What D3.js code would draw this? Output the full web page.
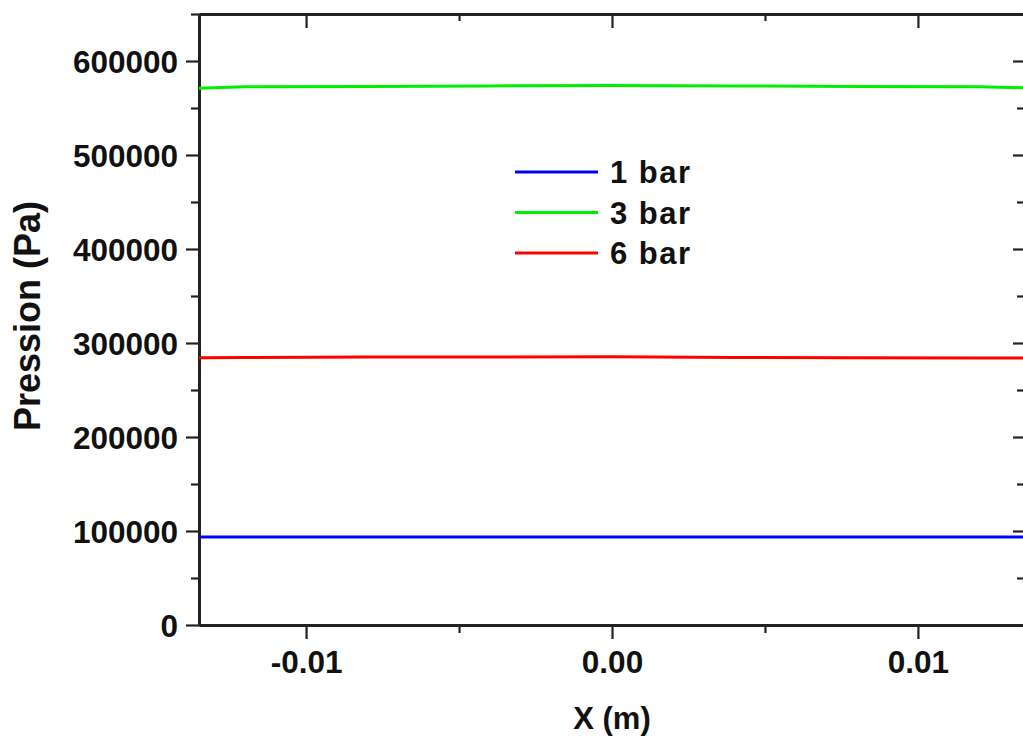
<!DOCTYPE html>
<html>
<head>
<meta charset="utf-8">
<script src="https://cdn.jsdelivr.net/npm/d3@7"></script>
<style>
  html, body { margin: 0; padding: 0; background: #fff; }
  svg { display: block; font-family: "Liberation Sans", Arial, sans-serif; font-weight: bold; }
</style>
</head>
<body>
<svg id="chart" width="1023" height="736"></svg>
<script>
// Position along the channel (m)
const xPositions = [-0.0135, -0.012, -0.008, -0.004, 0, 0.004, 0.008, 0.012, 0.0135];

// Pressure profiles (Pa) for each inlet setting
const seriesNames = ["1 bar", "3 bar", "6 bar"];
const pressure1bar = [93500, 93600, 93600, 93600, 93700, 93600, 93600, 93600, 93500];
const pressure3bar = [571000, 572500, 573000, 573500, 574000, 573500, 573000, 572500, 571500];
const pressure6bar = [284200, 284600, 285000, 285200, 285300, 284600, 284200, 284000, 284000];
const seriesColors = ["#0000ff", "#00ee00", "#ff0000"];

// Axis ticks
const xTickValues = [-0.01, 0, 0.01];
const xTickLabels = ["-0.01", "0.00", "0.01"];
const xMinorTicks = [-0.005, 0.005];
const yTickValues = [0, 100000, 200000, 300000, 400000, 500000, 600000];
const yTickLabels = ["0", "100000", "200000", "300000", "400000", "500000", "600000"];
const yMinorTicks = [50000, 150000, 250000, 350000, 450000, 550000, 650000];

const svg = d3.select("#chart");
const plotLeft = 199, plotRight = 1025, plotTop = 14, plotBottom = 625;

const x = d3.scaleLinear().domain([-0.0135, 0.0135]).range([plotLeft, plotRight]);
const y = d3.scaleLinear().domain([0, 650000]).range([plotBottom, plotTop]);

const axisColor = "#222";

function styleAxis(g) {
  g.selectAll("path, line").attr("stroke", axisColor);
  g.select("path.domain").attr("stroke-width", 3);
  g.selectAll(".tick line").attr("stroke-width", 2.2);
  g.selectAll("text").attr("fill", "#111").style("font-size", "31.5px").style("font-weight", "bold")
    .style("font-family", '"Liberation Sans", Arial, sans-serif');
}

// Minor ticks first so major axes draw over them
function minor(gen, vals, size) {
  return gen.tickValues(vals).tickSize(size).tickSizeOuter(0).tickFormat("");
}
svg.append("g").attr("transform", `translate(0,${plotBottom})`)
  .call(minor(d3.axisBottom(x), xMinorTicks, 8)).call(styleAxis);
svg.append("g").attr("transform", `translate(0,${plotTop})`)
  .call(minor(d3.axisBottom(x), xMinorTicks, 7)).call(styleAxis);
svg.append("g").attr("transform", `translate(${plotLeft},0)`)
  .call(minor(d3.axisLeft(y), yMinorTicks, 8)).call(styleAxis);
svg.append("g").attr("transform", `translate(${plotRight},0)`)
  .call(minor(d3.axisLeft(y), yMinorTicks, 8)).call(styleAxis);

// Major axes
svg.append("g").attr("transform", `translate(0,${plotBottom})`)
  .call(d3.axisBottom(x).tickValues(xTickValues).tickSize(14).tickPadding(12)
    .tickSizeOuter(0).tickFormat((d, i) => xTickLabels[i]))
  .call(styleAxis);
svg.append("g").attr("transform", `translate(0,${plotTop})`)
  .call(d3.axisBottom(x).tickValues(xTickValues).tickSize(14).tickSizeOuter(0).tickFormat(""))
  .call(styleAxis);
svg.append("g").attr("transform", `translate(${plotLeft},0)`)
  .call(d3.axisLeft(y).tickValues(yTickValues).tickSize(13).tickPadding(8)
    .tickSizeOuter(0).tickFormat((d, i) => yTickLabels[i]))
  .call(styleAxis)
  .selectAll(".tick text").attr("dy", "0.36em");
svg.append("g").attr("transform", `translate(${plotRight},0)`)
  .call(d3.axisLeft(y).tickValues(yTickValues).tickSize(12).tickSizeOuter(0).tickFormat(""))
  .call(styleAxis);

// Pressure curves
const seriesData = [pressure1bar, pressure3bar, pressure6bar];
const line = d3.line().x(d => x(d[0])).y(d => y(d[1]));
seriesData.forEach((vals, i) => {
  svg.append("path")
    .datum(xPositions.map((xv, j) => [xv, vals[j]]))
    .attr("fill", "none")
    .attr("stroke", seriesColors[i])
    .attr("stroke-width", 3)
    .attr("d", line);
});

// Axis titles
svg.append("text")
  .attr("x", x(0))
  .attr("y", 729)
  .attr("text-anchor", "middle")
  .style("font-size", "31px")
  .attr("fill", "#111")
  .text("X (m)");
svg.append("text")
  .attr("transform", "translate(40,316) rotate(-90)")
  .attr("text-anchor", "middle")
  .style("font-size", "36px")
  .attr("fill", "#111")
  .text("Pression (Pa)");

// Legend
const legend = svg.append("g").attr("transform", "translate(515,172)");
seriesNames.forEach((name, i) => {
  const g = legend.append("g").attr("transform", `translate(0,${i * 40.5})`);
  g.append("line").attr("x1", 0).attr("x2", 83).attr("y1", 0).attr("y2", 0)
    .attr("stroke", seriesColors[i]).attr("stroke-width", 3);
  g.append("text").attr("x", 95).attr("y", 11)
    .style("font-size", "31px").style("letter-spacing", "1.5px")
    .attr("fill", "#111").text(name);
});
</script>
</body>
</html>
